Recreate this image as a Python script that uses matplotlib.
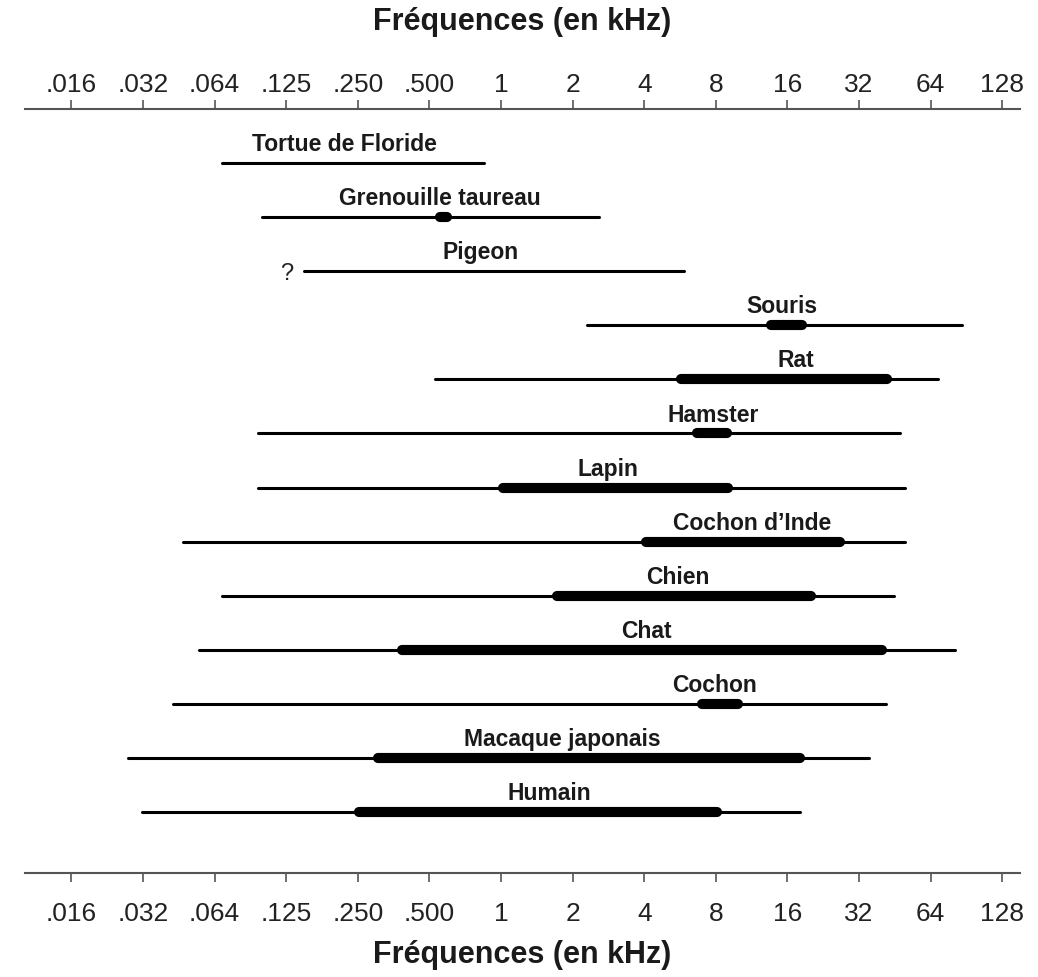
import matplotlib.pyplot as plt

plt.rcParams['font.family'] = ['Liberation Sans', 'DejaVu Sans']

# espèces, de haut en bas
especes = ["Tortue de Floride", "Grenouille taureau", "Pigeon", "Souris", "Rat",
           "Hamster", "Lapin", "Cochon d\u2019Inde", "Chien", "Chat", "Cochon",
           "Macaque japonais", "Humain"]

# étendue totale de l'audition (kHz)
bas = [0.067, 0.099, 0.149, 2.29, 0.528, 0.095, 0.095, 0.046, 0.067, 0.054,
       0.042, 0.027, 0.031]
haut = [0.85, 2.58, 5.88, 87.0, 69.0, 47.6, 49.9, 49.9, 44.9, 81.0, 41.4,
        35.3, 18.1]

# zone de meilleure sensibilité (kHz), None si absente
zone_bas = [None, 0.552, None, 13.7, 5.73, 6.69, 1.02, 4.08, 1.72, 0.385,
            7.01, 0.303, 0.254]
zone_haut = [None, 0.595, None, 18.5, 42.0, 8.93, 9.01, 26.7, 20.0, 40.0,
             9.95, 18.0, 8.1]

# position horizontale des étiquettes (kHz)
pos_label = [0.219, 0.554, 0.821, 15.1, 17.4, 7.79, 2.82, 11.4, 5.52, 4.09,
             7.92, 1.81, 1.59]

ticks = [1/64, 1/32, 1/16, 1/8, 1/4, 1/2, 1, 2, 4, 8, 16, 32, 64, 128]
tick_labels = [".016", ".032", ".064", ".125", ".250", ".500", "1", "2", "4",
               "8", "16", "32", "64", "128"]

fig = plt.figure(figsize=(10.38, 9.77), dpi=100)
ax = fig.add_axes([0.0241, 0.1064, 0.9586, 0.782])

for i, nom in enumerate(especes):
    ax.plot([bas[i], haut[i]], [i, i], color="black", lw=2.2,
            solid_capstyle="round")
    if zone_bas[i] is not None:
        ax.plot([zone_bas[i], zone_haut[i]], [i, i], color="black", lw=7.3,
                solid_capstyle="round")
    ax.text(pos_label[i], i - 0.22, nom, ha="center", va="baseline",
            fontsize=16.5, fontweight="bold", color="#1a1a1a")

# point d'interrogation devant le pigeon
ax.text(0.126, 2.05, "?", ha="center", va="center", fontsize=17, color="#222222")

xmin, xmax = 0.00998, 152
ax.set_xscale("log", base=2)
ax.set_xlim(xmin, xmax)
ax.set_ylim(13.13, -1.0)
ax.set_yticks([])
ax.minorticks_off()

for s in ["left", "right", "top"]:
    ax.spines[s].set_visible(False)
ax.spines["bottom"].set_color("#555555")
ax.spines["bottom"].set_linewidth(1.5)
ax.set_xticks(ticks)
ax.set_xticklabels(tick_labels)
ax.tick_params(axis="x", direction="out", length=6.5, width=1.2, color="#555555",
               labelsize=19, labelcolor="#222222", pad=14)

ax2 = ax.twiny()
ax2.set_xscale("log", base=2)
ax2.set_xlim(xmin, xmax)
ax2.minorticks_off()
for s in ["left", "right", "bottom"]:
    ax2.spines[s].set_visible(False)
ax2.spines["top"].set_color("#555555")
ax2.spines["top"].set_linewidth(1.5)
ax2.set_xticks(ticks)
ax2.set_xticklabels(tick_labels)
ax2.tick_params(axis="x", direction="out", length=6.5, width=1.2, color="#555555",
                labelsize=19, labelcolor="#222222", pad=2.5)

fig.text(522 / 1038, 1 - 22 / 977, "Fréquences (en kHz)", ha="center",
         va="center", fontsize=22, fontweight="bold", color="#1a1a1a")
fig.text(522 / 1038, 1 - 955 / 977, "Fréquences (en kHz)", ha="center",
         va="center", fontsize=22, fontweight="bold", color="#1a1a1a")

fig.savefig("out.png", dpi=100)
